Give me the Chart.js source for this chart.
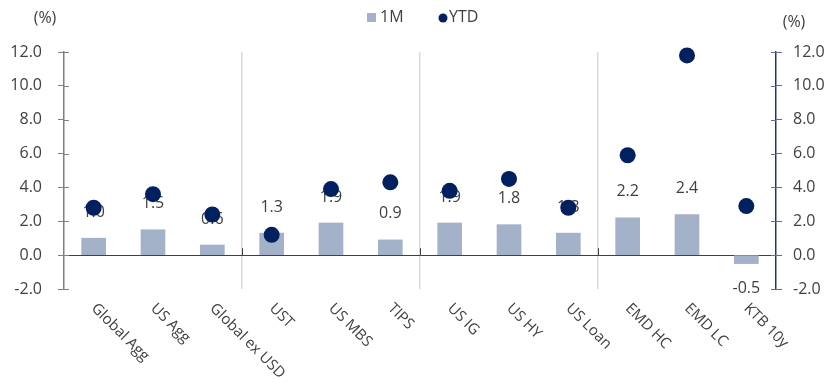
<!DOCTYPE html>
<html>
<head>
<meta charset="utf-8">
<script src="https://cdn.jsdelivr.net/npm/chart.js@4"></script>
<style>
  html, body { margin: 0; padding: 0; background: #ffffff; }
  #wrap { width: 836px; height: 383px; }
</style>
</head>
<body>
<div id="wrap"><canvas id="c" width="836" height="383"></canvas></div>
<script>
// Bond sector returns (%): last month and year to date
const categories = ['Global Agg', 'US Agg', 'Global ex USD', 'UST', 'US MBS', 'TIPS',
                    'US IG', 'US HY', 'US Loan', 'EMD HC', 'EMD LC', 'KTB 10y'];
const oneMonth = [1.0, 1.5, 0.6, 1.3, 1.9, 0.9, 1.9, 1.8, 1.3, 2.2, 2.4, -0.5];
const yearToDate = [2.8, 3.6, 2.4, 1.2, 3.9, 4.3, 3.8, 4.5, 2.8, 5.9, 11.8, 2.9];
const axisTicks = [-2, 0, 2, 4, 6, 8, 10, 12];
const groupBreaks = [3, 6, 9];
const seriesNames = ['1M', 'YTD'];

const FONT = 'Open Sans';
const TEXT = '#404040';
const BAR_COLOR = '#a3b1c9';
const DOT_COLOR = '#002060';
const LEFT_AXIS = '#808080';
const RIGHT_AXIS = '#1f3864';
const RIGHT_TICK = '#5b6f99';

// value labels on the bars, drawn before the YTD dots so the dots sit on top
const barLabels = {
  id: 'barLabels',
  afterDatasetDraw(chart, args) {
    if (args.index !== 0) return;
    const ctx = chart.ctx;
    ctx.save();
    ctx.font = '16px "' + FONT + '"';
    ctx.fillStyle = TEXT;
    ctx.textAlign = 'center';
    ctx.textBaseline = 'middle';
    args.meta.data.forEach((el, i) => {
      const v = oneMonth[i];
      const y = v >= 0 ? el.y - 26 : el.y + 25;
      ctx.fillText(v.toFixed(1), el.x, y);
    });
    ctx.restore();
  }
};

// inner halves of the axis tick marks and the group ticks on the zero line
const crossTicks = {
  id: 'crossTicks',
  beforeDatasetsDraw(chart) {
    const ctx = chart.ctx;
    const xs = chart.scales.x, yl = chart.scales.y, yr = chart.scales.y1;
    ctx.save();
    ctx.lineWidth = 1;
    axisTicks.forEach((v) => {
      const py = Math.round(yl.getPixelForValue(v)) + 0.5;
      ctx.strokeStyle = LEFT_AXIS;
      ctx.beginPath(); ctx.moveTo(yl.right, py); ctx.lineTo(yl.right + 5, py); ctx.stroke();
      ctx.strokeStyle = RIGHT_TICK;
      ctx.beginPath(); ctx.moveTo(yr.left - 5, py); ctx.lineTo(yr.left, py); ctx.stroke();
    });
    const zy = yl.getPixelForValue(0);
    ctx.strokeStyle = '#404040';
    groupBreaks.forEach((b) => {
      const px = Math.round((xs.getPixelForValue(b - 1) + xs.getPixelForValue(b)) / 2) + 0.5;
      ctx.beginPath(); ctx.moveTo(px, zy - 7); ctx.lineTo(px, zy); ctx.stroke();
    });
    ctx.restore();
  }
};

// slanted category names, legend and unit captions
const decorations = {
  id: 'decorations',
  afterDraw(chart) {
    const ctx = chart.ctx;
    const xs = chart.scales.x;
    ctx.save();
    ctx.fillStyle = TEXT;
    ctx.font = '15px "' + FONT + '"';
    ctx.textAlign = 'left';
    ctx.textBaseline = 'middle';
    categories.forEach((name, i) => {
      const px = xs.getPixelForValue(i);
      ctx.save();
      ctx.translate(px, xs.top + 17);
      ctx.rotate(Math.PI / 4);
      ctx.fillText(name, 0, 0);
      ctx.restore();
    });

    ctx.font = '16px "' + FONT + '"';
    // unit captions
    ctx.textAlign = 'center';
    ctx.fillText('(%)', 45, 18);
    ctx.fillText('(%)', 794, 22);

    // legend
    ctx.textAlign = 'left';
    ctx.fillStyle = BAR_COLOR;
    ctx.fillRect(367, 13, 9, 9);
    ctx.fillStyle = TEXT;
    ctx.fillText(seriesNames[0], 380, 17);
    ctx.fillStyle = DOT_COLOR;
    ctx.beginPath();
    ctx.arc(443, 18, 4.5, 0, Math.PI * 2);
    ctx.fill();
    ctx.fillStyle = TEXT;
    ctx.fillText(seriesNames[1], 449, 17);
    ctx.restore();
  }
};

const tickFont = { family: FONT, size: 16 };

new Chart(document.getElementById('c'), {
  data: {
    labels: categories,
    datasets: [
      {
        type: 'bar',
        label: seriesNames[0],
        data: oneMonth,
        backgroundColor: BAR_COLOR,
        barThickness: 24,
        yAxisID: 'y',
        order: 2
      },
      {
        type: 'line',
        label: seriesNames[1],
        data: yearToDate,
        showLine: false,
        clip: false,
        pointRadius: 8,
        pointHoverRadius: 8,
        pointBorderWidth: 0,
        pointBackgroundColor: DOT_COLOR,
        backgroundColor: DOT_COLOR,
        borderColor: DOT_COLOR,
        yAxisID: 'y1',
        order: 1
      }
    ]
  },
  options: {
    responsive: false,
    animation: false,
    devicePixelRatio: 1,
    layout: { padding: { top: 52, left: 0, right: 0, bottom: 0 } },
    plugins: {
      legend: { display: false },
      tooltip: { enabled: false }
    },
    scales: {
      x: {
        type: 'category',
        offset: true,
        border: { display: false },
        ticks: { display: false },
        grid: {
          offset: true,
          drawTicks: false,
          lineWidth: 1.5,
          color: (c) => groupBreaks.includes(c.index) ? '#d9d9d9' : 'rgba(0,0,0,0)'
        },
        afterFit: (s) => { s.height = 94; }
      },
      y: {
        position: 'left',
        min: -2,
        max: 12,
        afterBuildTicks: (s) => { s.ticks = axisTicks.map(v => ({ value: v })); },
        ticks: {
          callback: (v) => Number(v).toFixed(1),
          font: tickFont,
          color: TEXT,
          padding: 16
        },
        grid: {
          tickLength: 6,
          lineWidth: 1,
          color: (c) => (c.tick && c.tick.value === 0) ? '#404040' : 'rgba(0,0,0,0)',
          tickColor: LEFT_AXIS
        },
        border: { color: LEFT_AXIS, width: 1.5 },
        afterFit: (s) => { s.width = 64; }
      },
      y1: {
        position: 'right',
        min: -2,
        max: 12,
        afterBuildTicks: (s) => { s.ticks = axisTicks.map(v => ({ value: v })); },
        ticks: {
          callback: (v) => Number(v).toFixed(1),
          font: tickFont,
          color: TEXT,
          padding: 11
        },
        grid: {
          drawOnChartArea: false,
          tickLength: 6,
          tickColor: RIGHT_TICK
        },
        border: { color: RIGHT_AXIS, width: 1.5 },
        afterFit: (s) => { s.width = 60; }
      }
    }
  },
  plugins: [crossTicks, barLabels, decorations]
});
</script>
</body>
</html>
